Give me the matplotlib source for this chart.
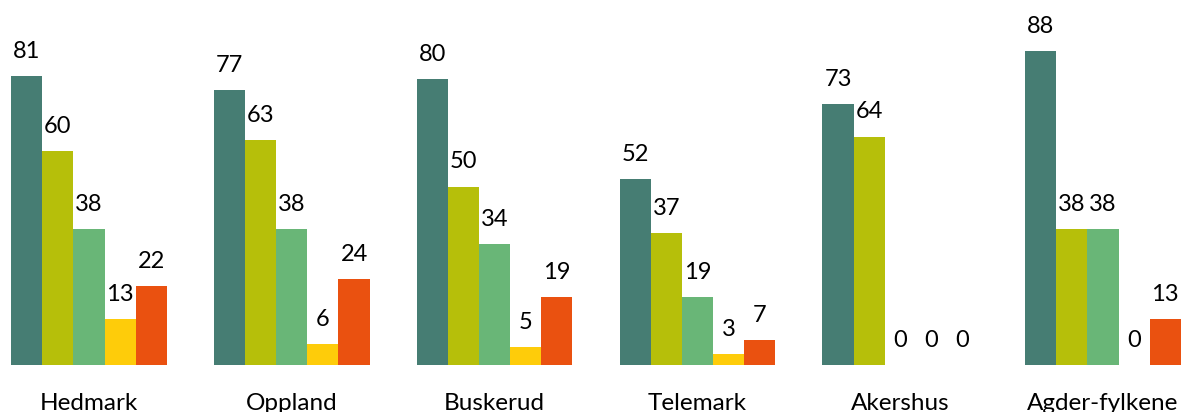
import matplotlib
matplotlib.use('Agg')
import matplotlib.pyplot as plt
import matplotlib.transforms as mtransforms
import numpy as np

plt.rcParams['font.family'] = ['Lato', 'DejaVu Sans']

# data
regions = ['Hedmark', 'Oppland', 'Buskerud', 'Telemark', 'Akershus', 'Agder-fylkene']
s1 = [81, 77, 80, 52, 73, 88]
s2 = [60, 63, 50, 37, 64, 38]
s3 = [38, 38, 34, 19, 0, 38]
s4 = [13, 6, 5, 3, 0, 0]
s5 = [22, 24, 19, 7, 0, 13]

series = [s1, s2, s3, s4, s5]
colors = ['#467d73', '#b6bf0a', '#69b677', '#fecc0a', '#ea5110']

fig = plt.figure(figsize=(11.82, 4.12), dpi=100)
ax = fig.add_axes([0, 0, 1, 1])

period = 202.8      # pixels between groups
first_center = 89   # pixel centre of first group
bar_px = 31.1
base_px = 47        # baseline above bottom edge
scale = 3.57        # pixels per unit

width = bar_px / period
x = np.arange(len(regions))

for i, (vals, col) in enumerate(zip(series, colors)):
    pos = x + (i - 2) * width
    ax.bar(pos, vals, width=width, color=col, linewidth=0)
    for px, v in zip(pos, vals):
        ax.annotate(str(v), (px, v), xytext=(0, 13), textcoords='offset points',
                    ha='center', va='baseline', fontsize=17, color='#000000')

trans = mtransforms.blended_transform_factory(ax.transData, ax.transAxes)
for xi, name in zip(x, regions):
    ax.text(xi, 2 / 412, name, transform=trans, ha='center', va='baseline',
            fontsize=17.5, color='#000000')

ax.set_xlim(-first_center / period, (1182 - first_center) / period)
ax.set_ylim(-base_px / scale, (412 - base_px) / scale)
ax.axis('off')

fig.savefig('out.png', dpi=100)
